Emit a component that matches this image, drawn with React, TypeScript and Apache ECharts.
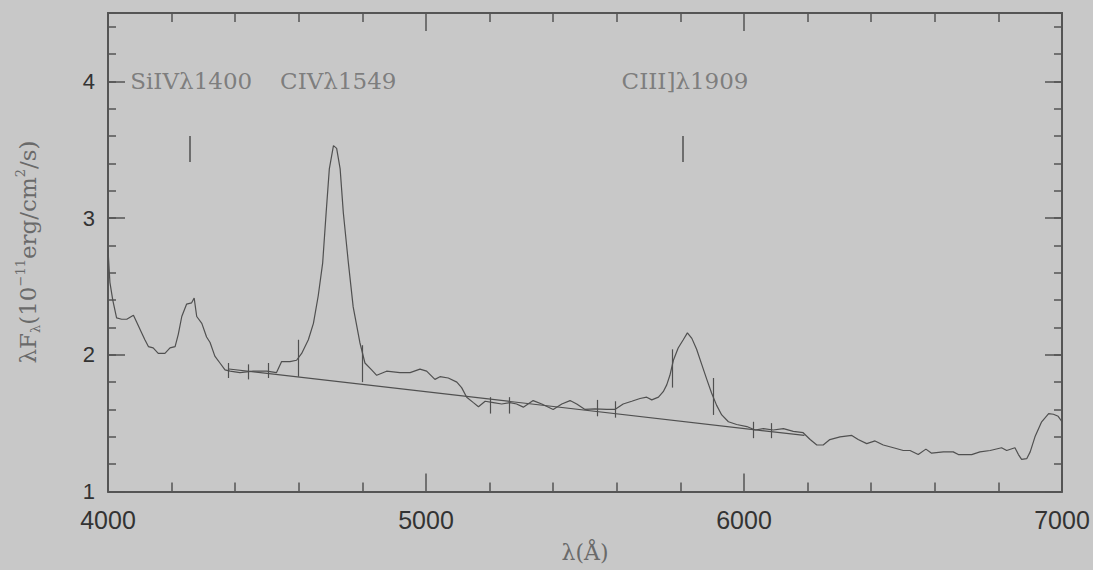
import React, { useEffect, useRef } from "react";
import * as echarts from "echarts";

// Spectrum (wavelength in Å, λFλ in 1e-11 erg/cm²/s)
const wavelength = [4000,4006,4015,4027,4043,4059,4080,4090,4106,4116,4127,4142,4158,4179,4195,4211,4221,4232,4247,4263,4271,4279,4295,4310,4321,4336,4352,4368,4384,4415,4457,4499,4530,4546,4572,4593,4609,4630,4646,4661,4675,4686,4696,4709,4719,4730,4740,4756,4771,4792,4808,4829,4845,4876,4918,4950,4981,5002,5028,5044,5070,5097,5112,5128,5149,5165,5186,5212,5238,5264,5285,5306,5337,5364,5400,5427,5453,5474,5500,5531,5568,5594,5620,5647,5673,5694,5710,5731,5746,5757,5767,5778,5793,5809,5822,5836,5851,5867,5883,5898,5914,5930,5951,5977,6009,6035,6061,6092,6124,6155,6186,6208,6229,6249,6270,6302,6339,6359,6386,6412,6438,6470,6501,6522,6548,6572,6590,6627,6658,6674,6716,6742,6774,6810,6826,6852,6863,6873,6889,6900,6915,6936,6958,6973,6988,7000];
const flux = [2.77,2.53,2.40,2.27,2.26,2.26,2.29,2.24,2.16,2.11,2.06,2.05,2.01,2.01,2.05,2.06,2.15,2.28,2.37,2.38,2.415,2.28,2.23,2.13,2.09,1.99,1.94,1.89,1.88,1.87,1.88,1.88,1.87,1.95,1.95,1.96,2.01,2.11,2.23,2.43,2.67,3.04,3.36,3.53,3.51,3.36,3.04,2.67,2.35,2.09,1.94,1.89,1.85,1.88,1.87,1.87,1.895,1.88,1.82,1.84,1.83,1.80,1.76,1.69,1.65,1.62,1.66,1.65,1.64,1.65,1.64,1.617,1.665,1.64,1.60,1.64,1.665,1.64,1.60,1.605,1.60,1.60,1.64,1.66,1.68,1.69,1.67,1.69,1.73,1.78,1.85,1.96,2.05,2.11,2.16,2.12,2.04,1.93,1.82,1.72,1.63,1.56,1.51,1.49,1.475,1.45,1.46,1.45,1.46,1.44,1.43,1.38,1.34,1.34,1.38,1.40,1.41,1.38,1.35,1.37,1.34,1.32,1.30,1.30,1.27,1.31,1.28,1.29,1.29,1.27,1.27,1.29,1.30,1.32,1.30,1.32,1.27,1.235,1.24,1.29,1.40,1.51,1.57,1.565,1.55,1.51];

// Power-law continuum fit (end points)
const continuumX = [4380, 6190];
const continuumY = [1.896, 1.41];

// Continuum window markers
const windowX = [4378, 4441, 4504, 4598, 4799, 5201, 5261, 5537, 5594, 5775, 5904, 6029, 6085];
const windowLow = [1.83, 1.82, 1.83, 1.84, 1.80, 1.57, 1.57, 1.55, 1.54, 1.76, 1.56, 1.39, 1.39];
const windowHigh = [1.94, 1.93, 1.94, 2.11, 2.07, 1.69, 1.69, 1.67, 1.66, 2.04, 1.83, 1.51, 1.50];

// Emission line labels
const lineNames = ["SiIVλ1400", "CIVλ1549", "CIII]λ1909"];
const lineLabelX = [4070, 4541, 5615];
const lineLabelY = [4.0, 4.0, 4.0];
const lineMarkX = [4258, 5808];
const lineMarkLow = [3.41, 3.41];
const lineMarkHigh = [3.6, 3.6];

const xTicks = [4000, 5000, 6000, 7000];
const yTicks = [1, 2, 3, 4];

const INK = "#505050";
const AXIS = "#555555";
const TXT = "#6a6a6a";
const SERIF = "'DejaVu Serif', 'Liberation Serif', serif";
const SANS = "'Liberation Sans', Arial, Helvetica, sans-serif";

export default function App() {
  const ref = useRef<HTMLDivElement>(null);
  useEffect(() => {
    if (!ref.current) return;
    const chart = echarts.init(ref.current, undefined, { renderer: "svg" });
    const spectrum = wavelength.map((w, i) => [w, flux[i]]);
    const continuum = continuumX.map((x, i) => [x, continuumY[i]]);
    const windows = windowX.map((x, i) => ({ coords: [[x, windowLow[i]], [x, windowHigh[i]]] }));
    const marks = lineMarkX.map((x, i) => ({ coords: [[x, lineMarkLow[i]], [x, lineMarkHigh[i]]] }));
    const labels = lineNames.map((n, i) => ({ name: n, value: [lineLabelX[i], lineLabelY[i]] }));

    const xBase = {
      type: "value",
      min: xTicks[0],
      max: xTicks[xTicks.length - 1],
      interval: 1000,
      splitLine: { show: false },
      axisLine: { show: true, lineStyle: { color: AXIS, width: 2 } },
      axisTick: { show: true, inside: true, length: 18, lineStyle: { color: AXIS, width: 1.5 } },
      minorTick: { show: true, splitNumber: 5, length: 9, lineStyle: { color: AXIS, width: 1.5 } },
      minorSplitLine: { show: false },
    };
    const yMajor = {
      type: "value",
      min: yTicks[0],
      max: 4.5,
      interval: 1,
      splitLine: { show: false },
      axisLine: { show: true, onZero: false, lineStyle: { color: AXIS, width: 2 } },
      axisTick: { show: true, inside: true, length: 17, lineStyle: { color: AXIS, width: 1.5 } },
    };
    const yMinor = {
      type: "value",
      min: yTicks[0],
      max: 4.5,
      interval: 0.2,
      splitLine: { show: false },
      axisLine: { show: true, onZero: false, lineStyle: { color: AXIS, width: 2 } },
      axisTick: { show: true, inside: true, length: 8, lineStyle: { color: AXIS, width: 1.5 } },
      axisLabel: { show: false },
    };

    chart.setOption({
      animation: false,
      backgroundColor: "#c8c8c8",
      grid: { left: 108, right: 31, top: 13, bottom: 78.5, containLabel: false },
      xAxis: [
        {
          ...xBase,
          position: "bottom",
          name: "λ(Å)",
          nameLocation: "middle",
          nameGap: 50,
          nameTextStyle: { fontFamily: SERIF, fontSize: 22, color: TXT },
          axisLabel: { show: true, margin: 16, fontFamily: SANS, fontSize: 25, color: "#333333",
            formatter: (v: number) => String(v) },
        },
        { ...xBase, position: "top", axisLabel: { show: false } },
      ],
      yAxis: [
        {
          ...yMajor,
          position: "left",
          axisLabel: { show: true, margin: 13, fontFamily: SANS, fontSize: 22, color: "#333333", showMaxLabel: false,
            formatter: (v: number) => (Number.isInteger(v) ? String(v) : "") },
        },
        { ...yMinor, position: "left" },
        { ...yMajor, position: "right", axisLabel: { show: false } },
        { ...yMinor, position: "right" },
      ],
      graphic: [
        {
          type: "text",
          x: 28,
          y: 252,
          rotation: Math.PI / 2,
          style: {
            text: "{a|λF}{s|λ}{a|(10}{p|−11}{a|erg/cm}{p|2}{a|/s)}",
            align: "center",
            verticalAlign: "middle",
            fill: TXT,
            rich: {
              a: { fontFamily: SERIF, fontSize: 23, lineHeight: 28, fill: TXT, color: TXT },
              s: { fontFamily: SERIF, fontSize: 13, lineHeight: 28, verticalAlign: "bottom", fill: TXT, color: TXT },
              p: { fontFamily: SERIF, fontSize: 13, lineHeight: 28, verticalAlign: "top", fill: TXT, color: TXT },
            },
          },
        },
      ],
      series: [
        {
          type: "line",
          data: spectrum,
          symbol: "none",
          lineStyle: { color: INK, width: 1.2 },
          silent: true,
        },
        {
          type: "line",
          data: continuum,
          symbol: "none",
          lineStyle: { color: INK, width: 1.2 },
          silent: true,
        },
        {
          type: "lines",
          coordinateSystem: "cartesian2d",
          data: windows,
          lineStyle: { color: INK, width: 1.2, opacity: 1 },
          silent: true,
        },
        {
          type: "lines",
          coordinateSystem: "cartesian2d",
          data: marks,
          lineStyle: { color: INK, width: 1.5, opacity: 1 },
          silent: true,
        },
        {
          type: "scatter",
          data: labels,
          symbolSize: 0,
          silent: true,
          label: {
            show: true,
            position: [0, 0],
            align: "left",
            verticalAlign: "middle",
            formatter: (p: any) => p.name,
            fontFamily: SERIF,
            fontSize: 23,
            color: TXT,
          },
        },
      ],
    });
    return () => chart.dispose();
  }, []);
  return (
    <div
      ref={ref}
      style={{ position: "absolute", left: 0, top: 0, width: 1093, height: 570 }}
    />
  );
}
